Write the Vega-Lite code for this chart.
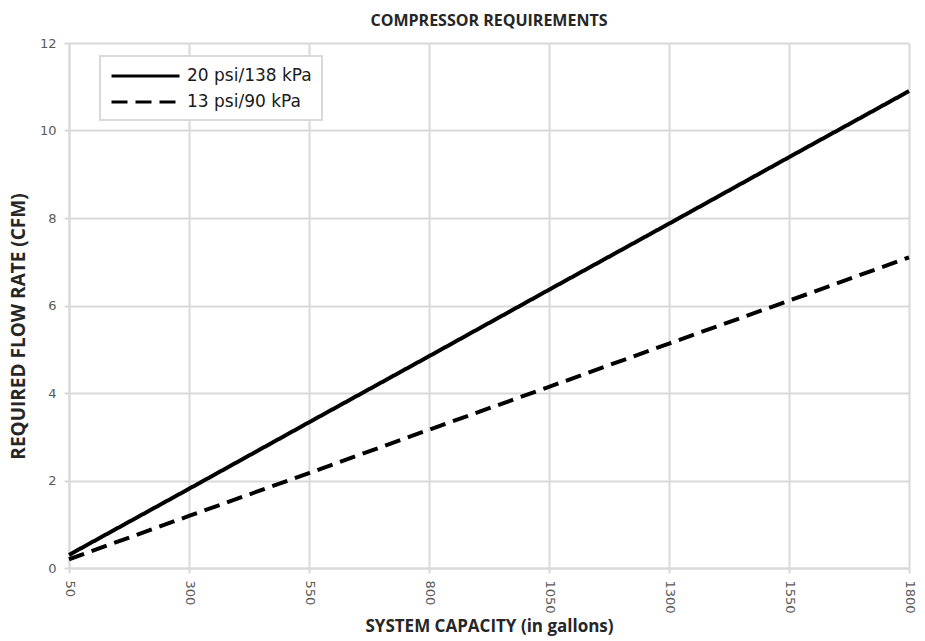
{
  "$schema": "https://vega.github.io/schema/vega-lite/v6.json",
  "width": 840,
  "height": 525,
  "autosize": {"type": "none"},
  "padding": {"left": 69, "top": 43, "right": 16, "bottom": 73},
  "background": "white",
  "title": {
    "text": "COMPRESSOR REQUIREMENTS",
    "font": "Open Sans",
    "fontSize": 16,
    "fontWeight": "bold",
    "color": "#262626",
    "anchor": "middle",
    "offset": 8
  },
  "data": {
    "values": [
      {"gal": 50, "cfm": 0.3, "series": "20 psi/138 kPa"},
      {"gal": 300, "cfm": 1.81, "series": "20 psi/138 kPa"},
      {"gal": 550, "cfm": 3.33, "series": "20 psi/138 kPa"},
      {"gal": 800, "cfm": 4.84, "series": "20 psi/138 kPa"},
      {"gal": 1050, "cfm": 6.36, "series": "20 psi/138 kPa"},
      {"gal": 1300, "cfm": 7.87, "series": "20 psi/138 kPa"},
      {"gal": 1550, "cfm": 9.39, "series": "20 psi/138 kPa"},
      {"gal": 1800, "cfm": 10.9, "series": "20 psi/138 kPa"},
      {"gal": 50, "cfm": 0.2, "series": "13 psi/90 kPa"},
      {"gal": 300, "cfm": 1.19, "series": "13 psi/90 kPa"},
      {"gal": 550, "cfm": 2.17, "series": "13 psi/90 kPa"},
      {"gal": 800, "cfm": 3.16, "series": "13 psi/90 kPa"},
      {"gal": 1050, "cfm": 4.14, "series": "13 psi/90 kPa"},
      {"gal": 1300, "cfm": 5.13, "series": "13 psi/90 kPa"},
      {"gal": 1550, "cfm": 6.11, "series": "13 psi/90 kPa"},
      {"gal": 1800, "cfm": 7.1, "series": "13 psi/90 kPa"}
    ]
  },
  "mark": {"type": "line", "color": "black", "strokeWidth": 4, "strokeCap": "butt"},
  "encoding": {
    "x": {
      "field": "gal",
      "type": "quantitative",
      "scale": {"domain": [50, 1800], "nice": false, "zero": false},
      "axis": {
        "values": [50, 300, 550, 800, 1050, 1300, 1550, 1800],
        "format": "d",
        "title": "SYSTEM CAPACITY (in gallons)",
        "titleFontSize": 17,
        "labelAngle": 90,
        "labelAlign": "left",
        "labelBaseline": "middle",
        "labelPadding": 7,
        "titlePadding": 5
      }
    },
    "y": {
      "field": "cfm",
      "type": "quantitative",
      "scale": {"domain": [0, 12], "nice": false},
      "axis": {
        "values": [0, 2, 4, 6, 8, 10, 12],
        "title": "REQUIRED FLOW RATE (CFM)",
        "titleFontSize": 19,
        "titleY": 283,
        "labelPadding": 8,
        "titlePadding": 11
      }
    },
    "strokeDash": {
      "field": "series",
      "type": "nominal",
      "scale": {
        "domain": ["20 psi/138 kPa", "13 psi/90 kPa"],
        "range": [[1, 0], [16, 8]]
      },
      "legend": {
        "title": null,
        "orient": "none",
        "legendX": 31,
        "legendY": 13,
        "strokeColor": "#d9d9d9",
        "fillColor": "white",
        "padding": 10,
        "symbolType": "M-1,0H7",
        "symbolSize": 289,
        "symbolStrokeWidth": 3,
        "symbolStrokeColor": "black",
        "labelFont": "DejaVu Sans",
        "labelFontSize": 17,
        "labelColor": "#1a1a1a",
        "labelOffset": 57,
        "rowPadding": 8,
        "encode": {
          "legend": {
            "update": {
              "strokeWidth": {"value": 2}
            }
          },
          "symbols": {
            "update": {
              "strokeDash": {"signal": "datum.value === '13 psi/90 kPa' ? [10.5, 4.5] : [1, 0]"},
              "strokeWidth": {"value": 3}
            }
          }
        }
      }
    }
  },
  "config": {
    "view": {"stroke": null},
    "axis": {
      "gridColor": "#d9d9d9",
      "gridWidth": 2,
      "domainColor": "#d9d9d9",
      "domainWidth": 2,
      "tickColor": "#d9d9d9",
      "tickWidth": 2,
      "tickSize": 5,
      "labelFont": "DejaVu Sans",
      "labelFontSize": 13,
      "labelColor": "#595959",
      "titleFont": "Open Sans",
      "titleFontWeight": "bold",
      "titleColor": "#262626"
    }
  }
}
